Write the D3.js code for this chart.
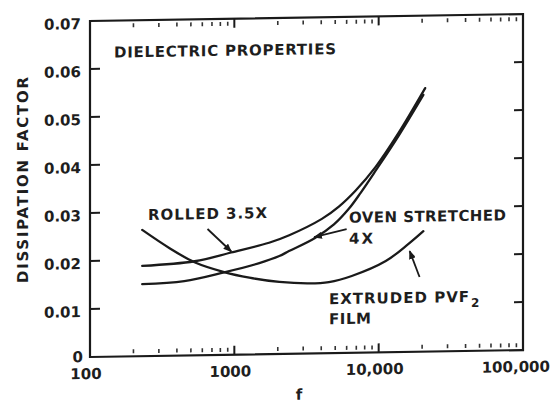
<!DOCTYPE html>
<html>
<head>
<meta charset="utf-8">
<script src="https://cdn.jsdelivr.net/npm/d3@7"></script>
<style>
  html, body { margin: 0; padding: 0; background: #ffffff; }
  svg { display: block; }
  text { font-family: "DejaVu Sans", sans-serif; font-weight: bold; fill: #1e1e1e; }
</style>
</head>
<body>
<svg id="chart" width="552" height="404"></svg>
<script>
// Dissipation factor vs frequency for three PVF2 films
const yTickValues = [0, 0.01, 0.02, 0.03, 0.04, 0.05, 0.06, 0.07];
const yTickLabels = ["0", "0.01", "0.02", "0.03", "0.04", "0.05", "0.06", "0.07"];
const xTickValues = [100, 1000, 10000, 100000];
const xTickLabels = ["100", "1000", "10,000", "100,000"];

const freqRolled = [230, 530, 950, 1740, 2400, 4040, 5300, 6930, 9500, 13700, 21000];
const dfRolled   = [0.0188, 0.0196, 0.0213, 0.0232, 0.0247, 0.0280, 0.0305, 0.0338, 0.0386, 0.0456, 0.0549];

const freqOven = [230, 450, 850, 1490, 2050, 2390, 3600, 4900, 6210, 7500, 9500, 13700, 20400];
const dfOven   = [0.0150, 0.0155, 0.0172, 0.0190, 0.0204, 0.0214, 0.0240, 0.0268, 0.0300, 0.0333, 0.0378, 0.0450, 0.0535];

const freqExtruded = [230, 356, 530, 850, 1270, 2050, 3290, 4520, 6510, 11200, 16100, 20400];
const dfExtruded   = [0.0263, 0.0224, 0.0194, 0.01725, 0.0160, 0.0150, 0.0146, 0.0148, 0.0160, 0.0190, 0.0225, 0.0251];

// annotation arrows: [tail f, tail value, head f, head value]
const arrowRolled   = [652, 0.02627, 953, 0.0215];
const arrowOven     = [6000, 0.0258, 3565, 0.0242];
const arrowExtruded = [19200, 0.01556, 16400, 0.0210];

const svg = d3.select("#chart");
const x = d3.scaleLog().domain([100, 100000]).range([90, 523]);
const y = d3.scaleLinear().domain([0, 0.07]).range([357, 21]);

// the whole plate sits with a slight slant
const g = svg.append("g").attr("transform", "translate(90,0) skewY(-0.92) translate(-90,0)");

const ink = "#1a1a1a";

// arrowhead
svg.append("defs").append("marker")
  .attr("id", "head").attr("viewBox", "0 0 10 8")
  .attr("refX", 9).attr("refY", 4)
  .attr("markerWidth", 9).attr("markerHeight", 7)
  .attr("markerUnits", "userSpaceOnUse").attr("orient", "auto")
  .append("path").attr("d", "M0,0 L10,4 L0,8 Z").attr("fill", ink);

// frame
const [x0, x1] = x.range();
const [yb, yt] = y.range();
g.append("path")
  .attr("d", `M${x0},${yt} L${x1},${yt} L${x1},${yb} L${x0},${yb} Z`)
  .attr("fill", "none").attr("stroke", ink).attr("stroke-width", 2.2);

// y ticks (inward on both sides)
const innerY = yTickValues.filter(v => v > 0 && v < 0.07);
g.selectAll(".ytl").data(innerY).join("line")
  .attr("x1", x0).attr("x2", x0 + 10)
  .attr("y1", d => y(d)).attr("y2", d => y(d))
  .attr("stroke", ink).attr("stroke-width", 2);
g.selectAll(".ytr").data(innerY).join("line")
  .attr("x1", x1).attr("x2", x1 - 9)
  .attr("y1", d => y(d)).attr("y2", d => y(d))
  .attr("stroke", ink).attr("stroke-width", 2);

// x ticks: minor and major, inward from top and bottom
const minor = [];
for (let dec = 100; dec < 100000; dec *= 10) {
  for (let m = 2; m <= 9; m++) minor.push(dec * m);
}
const major = xTickValues.filter(v => v > 100 && v < 100000);
[[yt, 1], [yb, -1]].forEach(([base, dir]) => {
  g.selectAll(null).data(minor).join("line")
    .attr("x1", d => x(d)).attr("x2", d => x(d))
    .attr("y1", base + dir * 3).attr("y2", base + dir * 7)
    .attr("stroke", "#333").attr("stroke-width", 1.6);
  g.selectAll(null).data(major).join("line")
    .attr("x1", d => x(d)).attr("x2", d => x(d))
    .attr("y1", base).attr("y2", base + dir * 9)
    .attr("stroke", ink).attr("stroke-width", 2);
});

// tick labels
g.selectAll(".ylab").data(yTickValues).join("text")
  .attr("x", d => d === 0 ? 83 : 81)
  .attr("y", d => y(d) + (d === 0 ? 5 : 8))
  .attr("text-anchor", "end").attr("font-size", 15)
  .text((d, i) => yTickLabels[i]);
g.selectAll(".xlab").data(xTickValues).join("text")
  .attr("y", 379)
  .attr("text-anchor", "middle").attr("font-size", 15)
  .text((d, i) => xTickLabels[i])
  .attr("x", function (d) {
    const half = this.getComputedTextLength() / 2;
    return Math.min(x(d) - 4, 550 - half);
  });

// axis titles
g.append("text")
  .attr("transform", "translate(28,179) rotate(-90)")
  .attr("text-anchor", "middle").attr("font-size", 15)
  .attr("textLength", 206).attr("lengthAdjust", "spacing")
  .text("DISSIPATION FACTOR");
g.append("text")
  .attr("x", 299).attr("y", 403)
  .attr("text-anchor", "middle").attr("font-size", 15)
  .text("f");

// curves
const line = d3.line().x(d => x(d[0])).y(d => y(d[1])).curve(d3.curveCatmullRom.alpha(0.5));
const series = [
  [freqRolled, dfRolled],
  [freqOven, dfOven],
  [freqExtruded, dfExtruded]
];
series.forEach(([fs, vs]) => {
  g.append("path")
    .attr("d", line(fs.map((f, i) => [f, vs[i]])))
    .attr("fill", "none").attr("stroke", ink)
    .attr("stroke-width", 2.3).attr("stroke-linecap", "round");
});

// arrows
[arrowRolled, arrowOven, arrowExtruded].forEach(a => {
  g.append("line")
    .attr("x1", x(a[0])).attr("y1", y(a[1]))
    .attr("x2", x(a[2])).attr("y2", y(a[3]))
    .attr("stroke", ink).attr("stroke-width", 1.8)
    .attr("marker-end", "url(#head)");
});

// labels
function label(txt, lx, ly, len) {
  g.append("text").attr("x", lx).attr("y", ly)
    .attr("font-size", 15)
    .attr("textLength", len).attr("lengthAdjust", "spacing")
    .text(txt);
}
label("DIELECTRIC PROPERTIES", 114, 58, 222);
label("ROLLED 3.5X", 148, 221, 119);
label("OVEN STRETCHED", 349, 227, 157);
label("4X", 349, 248, 24);
label("EXTRUDED PVF", 329, 308, 140);
g.append("text").attr("x", 471).attr("y", 313).attr("font-size", 12).text("2");
label("FILM", 329, 328, 42);
</script>
</body>
</html>
